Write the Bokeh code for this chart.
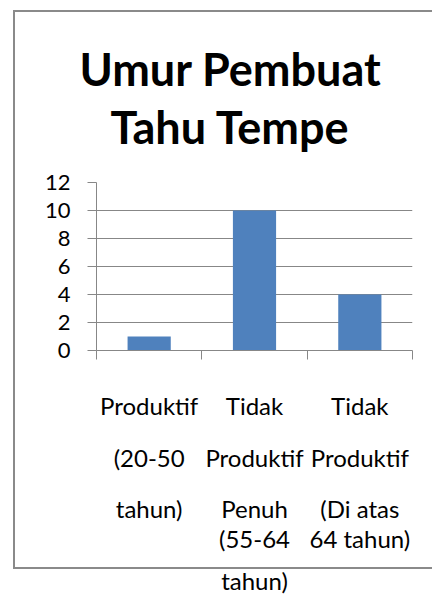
from bokeh.plotting import figure
from bokeh.models import (ColumnDataSource, Range1d, FixedTicker, LinearAxis, Title,
                          InlineStyleSheet)
from bokeh.embed import file_html
from bokeh.resources import INLINE

# ---- data ----
title_lines = ["Umur Pembuat", "Tahu Tempe"]
categories = ["Produktif (20-50 tahun)",
              "Tidak Produktif Penuh (55-64 tahun)",
              "Tidak Produktif (Di atas 64 tahun)"]
values = [1, 10, 4]
category_lines = [
    ["Produktif", "(20-50", "tahun)"],
    ["Tidak", "Produktif", "Penuh", "(55-64", "tahun)"],
    ["Tidak", "Produktif", "(Di atas", "64 tahun)"],
]
y_ticks = [0, 2, 4, 6, 8, 10, 12]

# ---- styles / layout ----
FONT = "Lato"
GRAY = "#878787"
BAR = "#4F81BD"
row_standoffs = [31, 20, 19, -2, 10]   # gap above each wrapped line of the category labels
title_offsets = [-17, 14]              # left shift of each title line from the plot-area edge

n = len(categories)
slot_centers = [i + 0.5 for i in range(n)]  # category slot centres on the x scale

p = figure(x_range=Range1d(0, n), y_range=Range1d(0, 12),
           frame_width=316, frame_height=168,
           min_border_left=96, min_border_right=20, min_border_top=182, min_border_bottom=246,
           output_backend="svg", toolbar_location=None, title=title_lines[0])
p.outline_line_color = None
p.background_fill_color = "white"
p.border_fill_color = "white"

def style_title(t, off):
    t.align = "left"
    t.text_font = FONT
    t.text_font_size = "45px"
    t.text_font_style = "bold"
    t.text_color = "black"
    t.offset = off

style_title(p.title, title_offsets[0])
p.title.standoff = -54
for line, off in zip(title_lines[1:], title_offsets[1:]):
    t = Title(text=line)
    style_title(t, off)
    t.standoff = 58
    p.add_layout(t, "above")

bars = ColumnDataSource(dict(x=slot_centers, top=values, cat=categories))
p.vbar(x="x", top="top", width=0.41, source=bars, color=BAR, line_color=None)

# y axis
p.yaxis.ticker = FixedTicker(ticks=y_ticks)
p.yaxis.axis_line_color = GRAY
p.yaxis.major_tick_line_color = GRAY
p.yaxis.major_tick_out = 9
p.yaxis.major_tick_in = 0
p.yaxis.minor_tick_line_color = None
p.yaxis.major_label_text_font = FONT
p.yaxis.major_label_text_font_size = "22px"
p.yaxis.major_label_text_color = "black"
p.yaxis.major_label_standoff = 17
p.ygrid.ticker = FixedTicker(ticks=y_ticks)
p.ygrid.grid_line_color = GRAY
p.xgrid.grid_line_color = None

# x axis: ticks at category boundaries
p.xaxis.ticker = FixedTicker(ticks=list(range(n + 1)))
p.xaxis.axis_line_color = GRAY
p.xaxis.major_tick_line_color = GRAY
p.xaxis.major_tick_out = 9
p.xaxis.major_tick_in = 0
p.xaxis.minor_tick_line_color = None
p.xaxis.major_label_text_font_size = "0px"
p.xaxis.major_label_standoff = 0

# category labels: one label axis per wrapped line
for r, s in enumerate(row_standoffs):
    ticks = [c for c, lines in zip(slot_centers, category_lines) if len(lines) > r]
    overrides = {c: lines[r] for c, lines in zip(slot_centers, category_lines) if len(lines) > r}
    ax = LinearAxis(ticker=FixedTicker(ticks=ticks), major_label_overrides=overrides,
                    axis_line_color=None, major_tick_line_color=None, minor_tick_line_color=None,
                    major_tick_out=0, major_tick_in=0, major_label_standoff=s,
                    major_label_text_font=FONT, major_label_text_font_size="24px",
                    major_label_text_color="black")
    p.add_layout(ax, "below")

# chart-area border (left, top, bottom edges; the right edge lies off the picture)
p.stylesheets = [InlineStyleSheet(css="""
:host { position: relative; }
:host::after {
  content: ""; position: absolute; left: 12.5px; top: 9.5px; right: 0; height: 559px;
  border: 2.5px solid #8a8a8a; border-right: none; box-sizing: border-box;
  pointer-events: none;
}
""")]

open("out.html", "w").write(file_html(p, INLINE))
